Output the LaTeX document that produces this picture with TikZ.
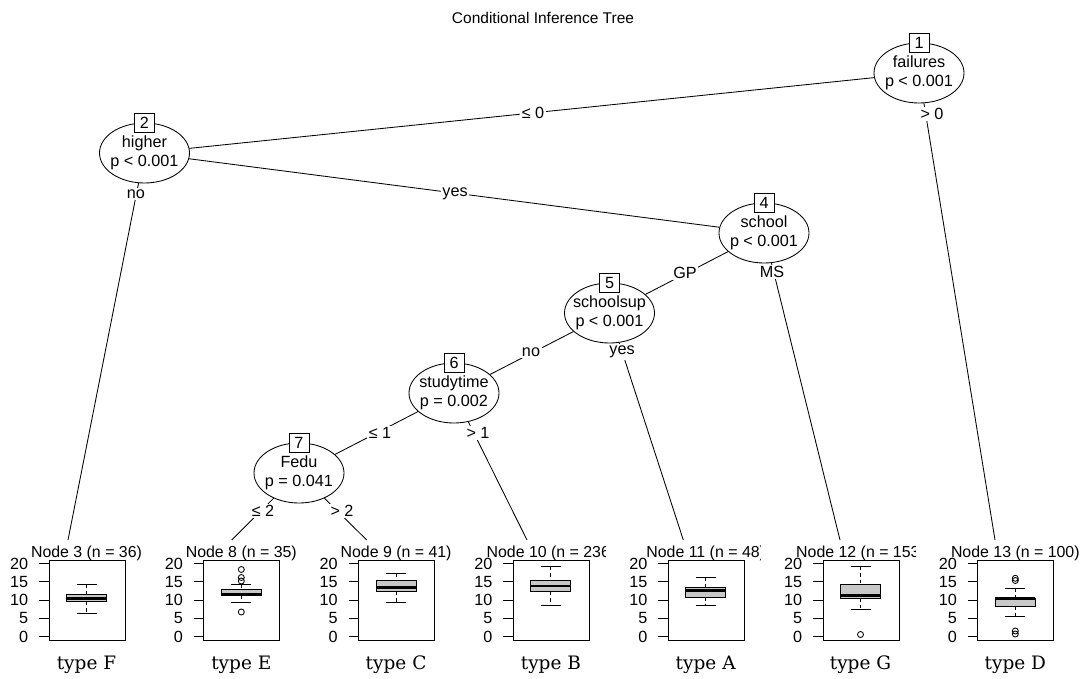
\documentclass[tikz,border=0pt]{standalone}
\usepackage{fontspec}
\setmainfont{Liberation Sans}
\newfontfamily\typefont{DejaVu Serif}
\usetikzlibrary{shapes.geometric}
\definecolor{boxfill}{RGB}{200,200,200}
\newcommand\termpanel[4]{%
  \fill[white] (#2-62.3,541) rectangle (#2+93.8,679);
  \node[hdr] (h#1) at (#2+37.5,557) {#3};
  \draw (#2,560) rectangle (#2+76,640);
  \foreach \v in {0,5,10,15,20}{
    \draw (#2-10,636.5-3.65*\v) -- (#2,636.5-3.65*\v);
    \node[ticklab] (k#1v\v) at (#2-20.5,636.5-3.65*\v) {\v};
  }
  \node[typelab] (ty#1) at (#2+37.5,669.3) {#4};
}
\newcommand\bxp[6]{%
  \draw[whisk] (#1,#2) -- (#1,#3);
  \draw[whisk] (#1,#5) -- (#1,#6);
  \draw (#1-10,#2) -- (#1+10,#2);
  \draw (#1-10,#6) -- (#1+10,#6);
  \filldraw[fill=boxfill] (#1-20,#3) rectangle (#1+20,#5);
  \draw[line width=2.6pt] (#1-20,#4) -- (#1+20,#4);
}
\newcommand\outl[2]{\draw (#1,#2) circle[radius=3pt];}
\begin{document}
\begin{tikzpicture}[x=1pt,y=-1pt,
  font=\fontsize{16.2}{18.5}\selectfont, line width=0.85pt,
  inner/.style={ellipse, draw, fill=white, minimum width=90pt, minimum height=60pt,
    inner xsep=-14pt, inner ysep=0pt, align=center},
  idbox/.style={draw, fill=white, minimum width=20pt, minimum height=19pt, inner sep=0pt},
  elab/.style={fill=white, inner sep=1.5pt},
  hdr/.style={anchor=base, inner sep=0pt, font=\fontsize{15.9}{18}\selectfont},
  ticklab/.style={anchor=east, inner sep=0pt},
  typelab/.style={anchor=base, inner sep=0pt, font=\typefont\fontsize{18.5}{21}\selectfont},
  whisk/.style={dash pattern=on 3.5pt off 3pt}]
\useasboundingbox (0,0) rectangle (1087,679);
\fill[white] (0,0) rectangle (1087,679);

\node (title) at (543,18) {\fontsize{15.5}{18}\selectfont Conditional Inference Tree};

% inner nodes
\node[inner] (n1) at (919,73) {failures\\p < 0.001};
\node[inner] (n2) at (144.5,153) {higher\\p < 0.001};
\node[inner] (n4) at (764,233) {school\\p < 0.001};
\node[inner] (n5) at (609.5,313) {schoolsup\\p < 0.001};
\node[inner] (n6) at (454,393) {studytime\\p = 0.002};
\node[inner] (n7) at (299,473) {Fedu\\p = 0.041};

% terminal attachment points
\coordinate (t3) at (68,540);
\coordinate (t8) at (231.7,540);
\coordinate (t9) at (366.7,540);
\coordinate (t10) at (527,540);
\coordinate (t11) at (683.3,540);
\coordinate (t12) at (840,540);
\coordinate (t13) at (995,540);

% edges
\draw (n1) -- (n2);
\draw (n1) -- (t13);
\draw (n2) -- (t3);
\draw (n2) -- (n4);
\draw (n4) -- (n5);
\draw (n4) -- (t12);
\draw (n5) -- (n6);
\draw (n5) -- (t11);
\draw (n6) -- (n7);
\draw (n6) -- (t10);
\draw (n7) -- (t8);
\draw (n7) -- (t9);

% id boxes
\node[idbox] (b1) at (n1.north) {1};
\node[idbox] (b2) at (n2.north) {2};
\node[idbox] (b4) at (n4.north) {4};
\node[idbox] (b5) at (n5.north) {5};
\node[idbox] (b6) at (n6.north) {6};
\node[idbox] (b7) at (n7.north) {7};

% edge labels
\node[elab] (e12) at (533,113) {≤ 0};
\node[elab] (e113) at (932,114) {> 0};
\node[elab] (e23) at (136,194) {no};
\node[elab] (e24) at (455,194) {yes};
\node[elab] (e45) at (685,273) {GP};
\node[elab] (e412) at (772,272) {MS};
\node[elab] (e56) at (531,352) {no};
\node[elab] (e511) at (622,352) {yes};
\node[elab] (e67) at (380,433) {≤ 1};
\node[elab] (e610) at (478,433) {> 1};
\node[elab] (e78) at (263,511) {≤ 2};
\node[elab] (e79) at (342,511) {> 2};

% terminal panels
\termpanel{3}{49}{Node 3 (n = 36)}{type F}
\bxp{86.5}{584}{594.5}{598.5}{601.5}{613}

\termpanel{8}{203.8}{Node 8 (n = 35)}{type E}
\bxp{241.3}{584}{589.5}{594.5}{595.5}{602}
\outl{241.3}{569.5}\outl{241.3}{577.5}\outl{241.3}{581}\outl{241.3}{612}

\termpanel{9}{358.6}{Node 9 (n = 41)}{type C}
\bxp{396.1}{573.3}{580.7}{587.7}{591.7}{602}

\termpanel{10}{513.4}{Node 10 (n = 236)}{type B}
\bxp{550.9}{566.7}{580.7}{586}{591.7}{605.3}

\termpanel{11}{668.2}{Node 11 (n = 48)}{type A}
\bxp{705.7}{577}{587}{590.7}{597}{605.3}

\termpanel{12}{823}{Node 12 (n = 153)}{type G}
\bxp{860.5}{566.5}{584}{595.5}{598.3}{609}
\outl{860.5}{634.5}

\termpanel{13}{977.8}{Node 13 (n = 100)}{type D}
\bxp{1015.3}{588.3}{598.3}{598.3}{606}{616.3}
\outl{1015.3}{578.3}\outl{1015.3}{580.5}\outl{1015.3}{631}\outl{1015.3}{634}
\end{tikzpicture}
\end{document}
